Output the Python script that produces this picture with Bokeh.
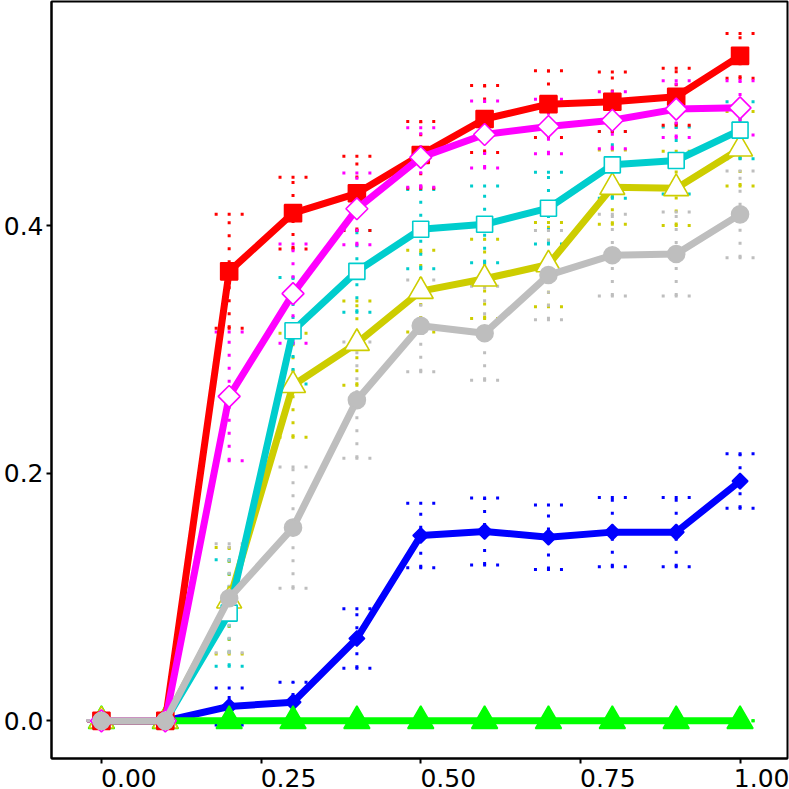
import math
from bokeh.plotting import figure
from bokeh.models import (ColumnDataSource, Range1d, FixedTicker, Whisker, TeeHead,
                          LinearAxis)
from bokeh.embed import file_html
from bokeh.resources import INLINE

# ---- data ----
x = [0.0, 0.1, 0.2, 0.3, 0.4, 0.5, 0.6, 0.7, 0.8, 0.9, 1.0]

red = [0, 0, 0.363, 0.410, 0.426, 0.457, 0.486, 0.498, 0.500, 0.504, 0.537]
red_err = [0, 0, 0.046, 0.029, 0.030, 0.027, 0.027, 0.027, 0.024, 0.023, 0.018]

magenta = [0, 0, 0.262, 0.345, 0.4135, 0.455, 0.4735, 0.480, 0.485, 0.494, 0.495]
magenta_err = [0, 0, 0.052, 0.040, 0.029, 0.024, 0.027, 0.022, 0.023, 0.023, 0.022]

cyan = [0, 0, 0.087, 0.315, 0.363, 0.397, 0.401, 0.414, 0.449, 0.4525, 0.477]
cyan_err = [0, 0, 0.043, 0.043, 0.033, 0.032, 0.031, 0.029, 0.027, 0.027, 0.023]

yellow = [0, 0, 0.097, 0.271, 0.305, 0.347, 0.357, 0.3685, 0.431, 0.430, 0.462]
yellow_err = [0, 0, 0.043, 0.042, 0.034, 0.033, 0.032, 0.034, 0.030, 0.030, 0.030]

gray = [0, 0, 0.099, 0.156, 0.259, 0.319, 0.313, 0.360, 0.376, 0.377, 0.409]
gray_err = [0, 0, 0.044, 0.049, 0.047, 0.037, 0.038, 0.036, 0.033, 0.034, 0.035]

blue = [0, 0, 0.0116, 0.0151, 0.0665, 0.1497, 0.1529, 0.1483, 0.1524, 0.1524, 0.1936]
blue_err = [0, 0, 0.015, 0.016, 0.024, 0.026, 0.027, 0.026, 0.028, 0.028, 0.022]

green = [0, 0, 0, 0, 0, 0, 0, 0, 0, 0, 0]
green_err = [0, 0, 0, 0, 0, 0, 0, 0, 0, 0, 0]

x_ticks = [0.0, 0.25, 0.5, 0.75, 1.0]
x_tick_labels = ["0.00", "0.25", "0.50", "0.75", "1.00"]
y_ticks = [0.0, 0.2, 0.4]
y_tick_labels = ["0.0", "0.2", "0.4"]

# ---- figure ----
X_PX = 639.5          # pixels per x unit
p = figure(width=789, height=789, output_backend="svg", toolbar_location=None,
           x_range=Range1d(-0.0782, 1.0743), y_range=Range1d(-0.0304, 0.5809),
           min_border_left=50, min_border_right=2, min_border_top=1, min_border_bottom=31)
p.background_fill_color = "white"
p.border_fill_color = "white"
p.outline_line_color = "black"
p.outline_line_width = 2
p.xgrid.visible = False
p.ygrid.visible = False

FONT = "DejaVu Sans"
FSIZE = "25px"

# x axis: tick marks only (labels not painted)
xa = p.xaxis[0]
xa.ticker = FixedTicker(ticks=x_ticks)
xa.axis_line_color = "black"
xa.axis_line_width = 2
xa.major_tick_line_color = "black"
xa.major_tick_line_width = 2
xa.major_tick_out = 5
xa.major_tick_in = 0
xa.minor_tick_line_color = None
xa.major_label_text_font_size = "1px"
xa.major_label_text_color = None
xa.major_label_standoff = 0

# x axis labels, left-aligned at their ticks (as in the reference)
shift = 27.5 / X_PX
label_pos = [t + shift for t in x_ticks]
xl = LinearAxis(ticker=FixedTicker(ticks=label_pos),
                major_label_overrides={pos: lab for pos, lab in zip(label_pos, x_tick_labels)})
xl.axis_line_color = None
xl.major_tick_line_color = None
xl.major_tick_out = 0
xl.major_tick_in = 0
xl.minor_tick_line_color = None
xl.major_label_standoff = 5
xl.major_label_text_font = FONT
xl.major_label_text_font_size = FSIZE
xl.major_label_text_color = "black"
p.add_layout(xl, "below")

ya = p.yaxis[0]
ya.ticker = FixedTicker(ticks=y_ticks)
ya.major_label_overrides = {t: l for t, l in zip(y_ticks, y_tick_labels)}
ya.axis_line_color = "black"
ya.axis_line_width = 2
ya.major_tick_line_color = "black"
ya.major_tick_line_width = 2
ya.major_tick_out = 5
ya.major_tick_in = 0
ya.minor_tick_line_color = None
ya.major_label_standoff = 3
ya.major_label_text_font = FONT
ya.major_label_text_font_size = FSIZE
ya.major_label_text_color = "black"

series = [
    # values, errors, color, marker, size, angle, fill
    (blue, blue_err, "#0000FF", "square", 11, math.pi / 4, "#0000FF"),
    (green, green_err, "#00FF00", "triangle", 26, 0, "#00FF00"),
    (yellow, yellow_err, "#CDCD00", "triangle", 25, 0, "white"),
    (cyan, cyan_err, "#00CDCD", "square", 16, 0, "white"),
    (red, red_err, "#FF0000", "square", 17, 0, "#FF0000"),
    (magenta, magenta_err, "#FF00FF", "square", 15.5, math.pi / 4, "white"),
    (gray, gray_err, "#BEBEBE", "circle", 17, 0, "#BEBEBE"),
]

DOT = "3 10"
for vals, errs, col, mk, sz, ang, fill in series:
    src = ColumnDataSource(dict(
        x=x, y=vals,
        upper=[v + e for v, e in zip(vals, errs)],
        lower=[v - e for v, e in zip(vals, errs)],
    ))
    p.line("x", "y", source=src, line_color=col, line_width=7,
           line_join="round", line_cap="round")
    p.scatter("x", "y", source=src, marker=mk, size=sz, angle=ang,
              fill_color=fill, line_color=col, line_width=1.6)
    w = Whisker(source=src, base="x", upper="upper", lower="lower",
                dimension="height", line_color=col, line_width=3, line_dash=DOT,
                upper_head=TeeHead(size=29, line_color=col, line_width=3, line_dash=DOT),
                lower_head=TeeHead(size=29, line_color=col, line_width=3, line_dash=DOT))
    p.add_layout(w)

open("out.html", "w").write(file_html(p, INLINE))
